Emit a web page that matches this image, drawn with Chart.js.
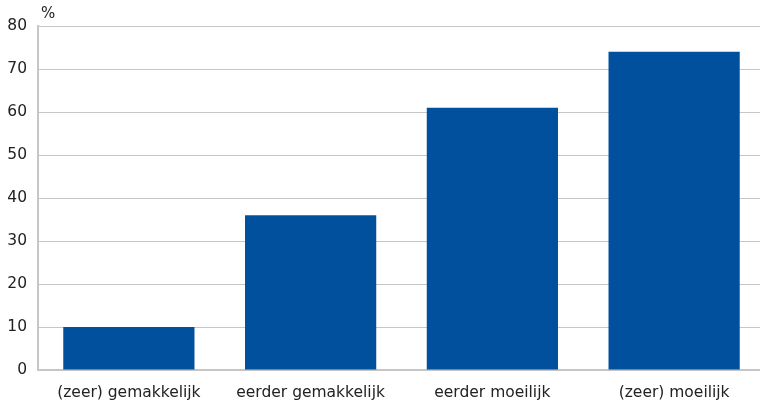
<!DOCTYPE html>
<html>
<head>
<meta charset="utf-8">
<script src="https://cdn.jsdelivr.net/npm/chart.js@4/dist/chart.umd.min.js"></script>
<style>
  html, body { margin: 0; padding: 0; background: #fff; overflow: hidden; }
  /* plot runs a few px past the right edge, like the reference */
  #wrap { width: 765px; height: 403px; }
</style>
</head>
<body>
<div id="wrap"><canvas id="chart"></canvas></div>
<script>
const categories = ["(zeer) gemakkelijk", "eerder gemakkelijk", "eerder moeilijk", "(zeer) moeilijk"];
const percentages = [10, 36, 61, 74];
const yTicks = [0, 10, 20, 30, 40, 50, 60, 70, 80];

const FONT = "'DejaVu Sans', Verdana, sans-serif";

// draws the "%" unit above the y axis
const unitLabel = {
  id: "unitLabel",
  afterDraw(chart) {
    const { ctx, chartArea } = chart;
    ctx.save();
    ctx.font = "15px " + FONT;
    ctx.fillStyle = "#222";
    ctx.textAlign = "left";
    ctx.textBaseline = "middle";
    ctx.fillText("%", chartArea.left + 3, chartArea.top - 12);
    ctx.restore();
  }
};

new Chart(document.getElementById("chart"), {
  type: "bar",
  data: {
    labels: categories,
    datasets: [{
      data: percentages,
      backgroundColor: "#00509e",
      barPercentage: 0.722,
      categoryPercentage: 1.0
    }]
  },
  options: {
    responsive: true,
    maintainAspectRatio: false,
    animation: false,
    layout: { padding: { top: 26, right: 0, bottom: 0, left: 0 } },
    plugins: {
      legend: { display: false },
      tooltip: { enabled: false }
    },
    scales: {
      x: {
        afterFit(axis) { axis.height = 33; },
        grid: { display: false, drawTicks: false },
        border: { color: "#c6c6c6", width: 2 },
        ticks: {
          color: "#222",
          font: { family: FONT, size: 15.5 },
          padding: 14,
          maxRotation: 0
        }
      },
      y: {
        min: yTicks[0],
        max: yTicks[yTicks.length - 1],
        afterBuildTicks(axis) {
          axis.ticks = yTicks.map(v => ({ value: v }));
        },
        afterFit(axis) { axis.width = 38; },
        grid: { color: "#c6c6c6", lineWidth: 1, drawTicks: false },
        border: { color: "#c6c6c6", width: 2 },
        ticks: {
          color: "#222",
          font: { family: FONT, size: 15.5 },
          padding: 11
        }
      }
    }
  },
  plugins: [unitLabel]
});
</script>
</body>
</html>
